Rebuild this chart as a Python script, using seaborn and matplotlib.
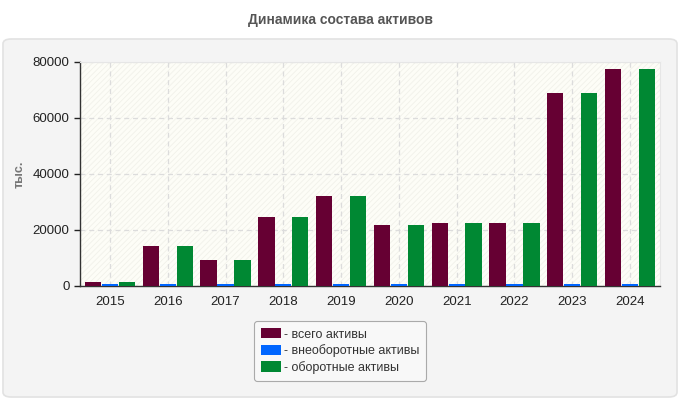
import numpy as np
import pandas as pd
import matplotlib
matplotlib.use('Agg')
import matplotlib.pyplot as plt
import seaborn as sns
from matplotlib.patches import FancyBboxPatch, Rectangle

years = ['2015', '2016', '2017', '2018', '2019', '2020', '2021', '2022', '2023', '2024']
total_assets = [1500, 14300, 9300, 24700, 32200, 21800, 22500, 22500, 69000, 77500]
noncurrent_assets = [700, 700, 700, 700, 700, 700, 700, 700, 700, 700]
current_assets = [1500, 14300, 9300, 24700, 32200, 21800, 22500, 22500, 69000, 77500]
series_names = ['- всего активы', '- внеоборотные активы', '- оборотные активы']
colors = ['#660033', '#0066ff', '#008833']

df = pd.DataFrame({
    'year': years * 3,
    'value': total_assets + noncurrent_assets + current_assets,
    'series': [series_names[0]] * 10 + [series_names[1]] * 10 + [series_names[2]] * 10,
})

sns.set_style('white')
plt.rcParams['font.family'] = ['Liberation Sans', 'DejaVu Sans']
plt.rcParams['hatch.linewidth'] = 0.6

fig = plt.figure(figsize=(6.8, 4), dpi=100)
fig.patch.set_facecolor('white')

# grey rounded panel behind the chart
panel = FancyBboxPatch((3 / 680, 3 / 400), 674 / 680, 358 / 400,
                       boxstyle='round,pad=0,rounding_size=0.012',
                       transform=fig.transFigure, facecolor='#f4f4f4',
                       edgecolor='#e2e2e2', linewidth=1.2, zorder=-10)
fig.patches.append(panel)

ax = fig.add_axes([80 / 680, 114 / 400, 580 / 680, 224 / 400])
ax.set_zorder(1)
ax.set_facecolor('#fdfdf7')
ax.add_patch(Rectangle((0, 0), 1, 1, transform=ax.transAxes, facecolor='none',
                       edgecolor='#f1f1ea', hatch='//////', linewidth=0, zorder=0))

sns.barplot(data=df, x='year', y='value', hue='series', palette=colors,
            saturation=1, width=0.88, gap=0.04, linewidth=0,
            ax=ax, zorder=3, legend=True)

ax.set_xlim(-0.52, 9.52)
ax.set_ylim(0, 80000)
ax.set_yticks([0, 20000, 40000, 60000, 80000])
ax.grid(True, color='#dcdcdc', linestyle=(0, (4, 3)), linewidth=0.9, zorder=1)
ax.set_axisbelow(True)

for side in ['top', 'right']:
    ax.spines[side].set_color('#e6e6e6')
for side in ['left', 'bottom']:
    ax.spines[side].set_color('#333333')
    ax.spines[side].set_linewidth(1)

ax.tick_params(axis='both', labelsize=9.5, colors='#222222', length=4,
               direction='out', left=True, bottom=False, width=1)
ax.set_xlabel('')
ax.set_ylabel('тыс.', fontsize=9, fontweight='bold', color='#777777')
ax.yaxis.set_label_coords(-0.093, 0.5)

fig.text(0.5, 0.95, 'Динамика состава активов', ha='center', va='center',
         fontsize=10, fontweight='bold', color='#555555')

leg = ax.legend(loc='center', bbox_to_anchor=(0.5, 0.1225),
                bbox_transform=fig.transFigure, frameon=True, fancybox=True,
                fontsize=9, handlelength=1.6, handleheight=0.9, handletextpad=0.2,
                labelspacing=0.3, borderpad=0.55, edgecolor='#aaaaaa',
                facecolor='#f8f8f8', framealpha=1)
leg.get_frame().set_linewidth(0.8)
for txt in leg.get_texts():
    txt.set_color('#333333')

fig.savefig('out.png', dpi=100)
